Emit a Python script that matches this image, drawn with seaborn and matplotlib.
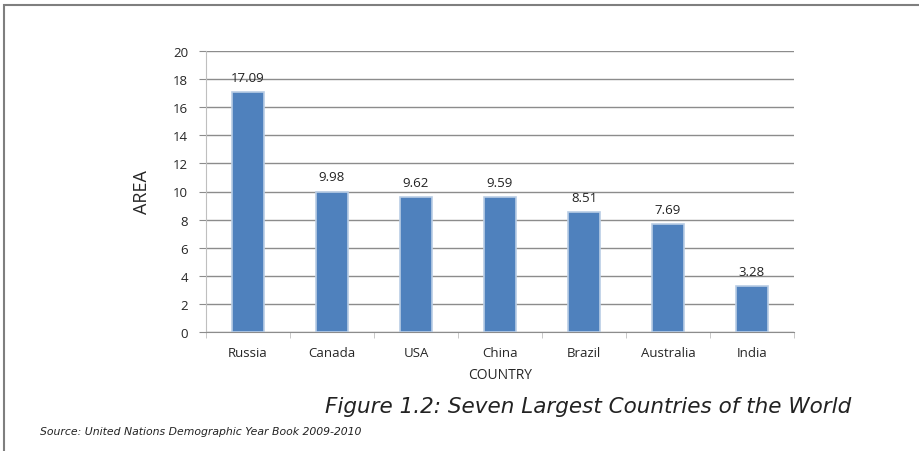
import matplotlib
matplotlib.use("Agg")
import matplotlib.pyplot as plt
import seaborn as sns
import pandas as pd
from matplotlib.patches import Rectangle

countries = ["Russia", "Canada", "USA", "China", "Brazil", "Australia", "India"]
areas = [17.09, 9.98, 9.62, 9.59, 8.51, 7.69, 3.28]
value_labels = ["17.09", "9.98", "9.62", "9.59", "8.51", "7.69", "3.28"]
y_ticks = [0, 2, 4, 6, 8, 10, 12, 14, 16, 18, 20]

sns.set_style("white")
plt.rcParams['font.family'] = ['Open Sans', 'DejaVu Sans']

df = pd.DataFrame({"COUNTRY": countries, "AREA": areas})

fig = plt.figure(figsize=(9.2, 4.52), dpi=100)
ax = fig.add_axes([206/920, 1 - 333/452, 588/920, 281/452])

sns.barplot(data=df, x="COUNTRY", y="AREA", color="#4F81BD", width=0.38,
            edgecolor="#B9CDE5", linewidth=1.2, saturation=1, ax=ax, zorder=3)

ax.set_ylim(0, 20)
ax.set_xlim(-0.5, len(countries) - 0.5)
ax.set_yticks(y_ticks)
ax.yaxis.grid(True, color="#8c8c8c", linewidth=1.0, zorder=0)
ax.set_axisbelow(True)
for s in ["top", "right"]:
    ax.spines[s].set_visible(False)
ax.spines["left"].set_color("#bfbfbf")
ax.spines["bottom"].set_color("#8c8c8c")
ax.tick_params(axis="y", length=5, color="#8c8c8c", labelsize=9.5, pad=8, left=True)
ax.set_xticks(range(len(countries)))
ax.set_xticklabels(countries)
ax.set_xticks([i - 0.5 for i in range(len(countries) + 1)], minor=True)
ax.tick_params(axis="x", which="major", length=0, labelsize=9.5, pad=10)
ax.tick_params(axis="x", which="minor", length=4, color="#bfbfbf", bottom=True)

for i, (v, lab) in enumerate(zip(areas, value_labels)):
    ax.annotate(lab, (i, v), xytext=(0, 6), textcoords="offset points",
                ha="center", va="bottom", fontsize=9.5, color="#222222")

ax.set_xlabel("COUNTRY", fontsize=10, labelpad=6)
ax.set_ylabel("AREA", fontsize=13, labelpad=16)

fig.text(588/920, 1 - 407/452, "Figure 1.2: Seven Largest Countries of the World",
         ha="center", va="center", fontsize=15.5, style="italic", color="#222222",
         family="DejaVu Sans")
fig.text(40/920, 1 - 432/452, "Source: United Nations Demographic Year Book 2009-2010",
         ha="left", va="center", fontsize=7.8, style="italic", color="#222222",
         family="DejaVu Sans")

fig.patches.append(Rectangle((4/920, -0.1), 1.2, 1.1 - 6/452, transform=fig.transFigure,
                             fill=False, edgecolor="#7f7f7f", linewidth=1.5))

fig.savefig("out.png", dpi=100)
